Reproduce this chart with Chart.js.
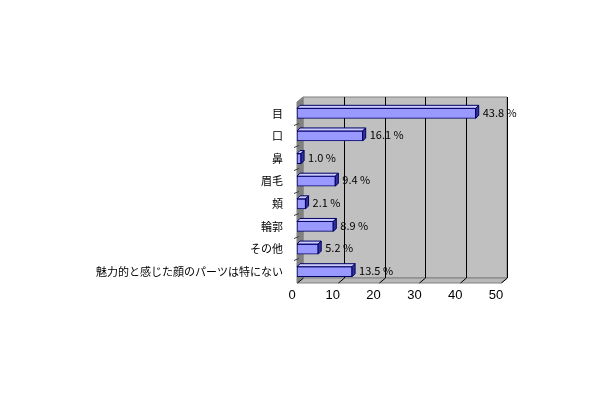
<!DOCTYPE html>
<html>
<head>
<meta charset="utf-8">
<script src="https://cdn.jsdelivr.net/npm/chart.js@4"></script>
<style>
  html, body { margin: 0; padding: 0; background: #ffffff; }
  #wrap { width: 610px; height: 400px; }
</style>
</head>
<body>
<div id="wrap"><canvas id="face-chart" width="610" height="400"></canvas></div>
<script>
// Values
const categories = ['目', '口', '鼻', '眉毛', '頬', '輪郭', 'その他', '魅力的と感じた顔のパーツは特にない'];
const percentages = [43.8, 16.1, 1.0, 9.4, 2.1, 8.9, 5.2, 13.5];
const xTicks = [0, 10, 20, 30, 40, 50];

// 3D offset of the back wall and depth of each bar
const WALL_DX = 6, WALL_DY = 5;
const BAR_D = 3;

const wallPlugin = {
    id: 'wall3d',
    beforeDatasetsDraw(chart) {
        const { ctx, chartArea: a, scales } = chart;
        const x0 = a.left, x1 = a.right, t = a.top, b = a.bottom;
        ctx.save();
        ctx.lineWidth = 1;
        ctx.strokeStyle = '#808080';

        // back wall
        ctx.fillStyle = '#c0c0c0';
        ctx.beginPath();
        ctx.rect(x0 + WALL_DX, t - WALL_DY, x1 - x0, b - t);
        ctx.fill();
        ctx.stroke();

        // left side wall
        ctx.fillStyle = '#808080';
        ctx.beginPath();
        ctx.moveTo(x0, t);
        ctx.lineTo(x0 + WALL_DX, t - WALL_DY);
        ctx.lineTo(x0 + WALL_DX, b - WALL_DY);
        ctx.lineTo(x0, b);
        ctx.closePath();
        ctx.fill();
        ctx.stroke();

        // floor
        ctx.fillStyle = '#b8b8b8';
        ctx.beginPath();
        ctx.moveTo(x0, b);
        ctx.lineTo(x0 + WALL_DX, b - WALL_DY);
        ctx.lineTo(x1 + WALL_DX, b - WALL_DY);
        ctx.lineTo(x1, b);
        ctx.closePath();
        ctx.fill();
        ctx.stroke();

        // gridlines on the back wall and floor
        ctx.strokeStyle = '#000000';
        xTicks.forEach(v => {
            const x = Math.round(scales.x.getPixelForValue(v)) + 0.5;
            if (v > 0) {
                ctx.beginPath();
                ctx.moveTo(x + WALL_DX, t - WALL_DY);
                ctx.lineTo(x + WALL_DX, b - WALL_DY);
                ctx.stroke();
            }
            ctx.beginPath();
            ctx.moveTo(x, b);
            ctx.lineTo(x + WALL_DX, b - WALL_DY);
            ctx.stroke();
        });

        // category ticks on the side wall
        ctx.strokeStyle = '#404040';
        const step = (b - t) / categories.length;
        for (let i = 1; i < categories.length; i++) {
            const y = Math.round(t + i * step) + 0.5;
            ctx.beginPath();
            ctx.moveTo(x0 - 3, y);
            ctx.lineTo(x0 + 2, y - 2);
            ctx.stroke();
        }
        ctx.restore();
    },
    afterDatasetsDraw(chart) {
        const { ctx } = chart;
        const meta = chart.getDatasetMeta(0);
        ctx.save();
        meta.data.forEach((bar, i) => {
            const xs = bar.base, xe = bar.x;
            const yt = bar.y - bar.height / 2, yb = bar.y + bar.height / 2;
            // top face
            ctx.fillStyle = '#ccccff';
            ctx.strokeStyle = '#000066';
            ctx.lineWidth = 1;
            ctx.beginPath();
            ctx.moveTo(xs, yt);
            ctx.lineTo(xs + BAR_D, yt - BAR_D);
            ctx.lineTo(xe + BAR_D, yt - BAR_D);
            ctx.lineTo(xe, yt);
            ctx.closePath();
            ctx.fill();
            ctx.stroke();
            // right face
            ctx.fillStyle = '#333399';
            ctx.beginPath();
            ctx.moveTo(xe, yt);
            ctx.lineTo(xe + BAR_D, yt - BAR_D);
            ctx.lineTo(xe + BAR_D, yb - BAR_D);
            ctx.lineTo(xe, yb);
            ctx.closePath();
            ctx.fill();
            ctx.stroke();
            // value label
            ctx.fillStyle = '#000000';
            ctx.font = '11px "Noto Sans CJK JP", "DejaVu Sans", sans-serif';
            ctx.textAlign = 'left';
            ctx.textBaseline = 'middle';
            ctx.fillText(percentages[i].toFixed(1) + ' %', xe + BAR_D + 4, bar.y - 1);
        });
        ctx.restore();
    }
};

new Chart(document.getElementById('face-chart').getContext('2d'), {
    type: 'bar',
    data: {
        labels: categories,
        datasets: [{
            data: percentages,
            backgroundColor: '#9999ff',
            borderColor: '#000066',
            borderWidth: 1,
            borderSkipped: false,
            barThickness: 10
        }]
    },
    options: {
        indexAxis: 'y',
        responsive: false,
        animation: false,
        layout: { padding: { top: 102, right: 109, left: 0, bottom: 0 } },
        plugins: {
            legend: { display: false },
            tooltip: { enabled: false }
        },
        scales: {
            x: {
                min: 0,
                max: 50,
                afterFit: s => { s.height = 117; },
                afterBuildTicks: s => { s.ticks = xTicks.map(v => ({ value: v })); },
                grid: { display: false, drawTicks: false },
                border: { display: false },
                ticks: {
                    padding: 5,
                    labelOffset: -5,
                    color: '#000000',
                    font: { family: '"Liberation Sans", Arial, sans-serif', size: 13 }
                }
            },
            y: {
                afterFit: s => { s.width = 297; },
                grid: { display: false },
                border: { display: false },
                ticks: {
                    padding: 6,
                    color: '#000000',
                    font: { family: '"Noto Sans CJK JP", sans-serif', size: 11 }
                }
            }
        }
    },
    plugins: [wallPlugin]
});
</script>
</body>
</html>
